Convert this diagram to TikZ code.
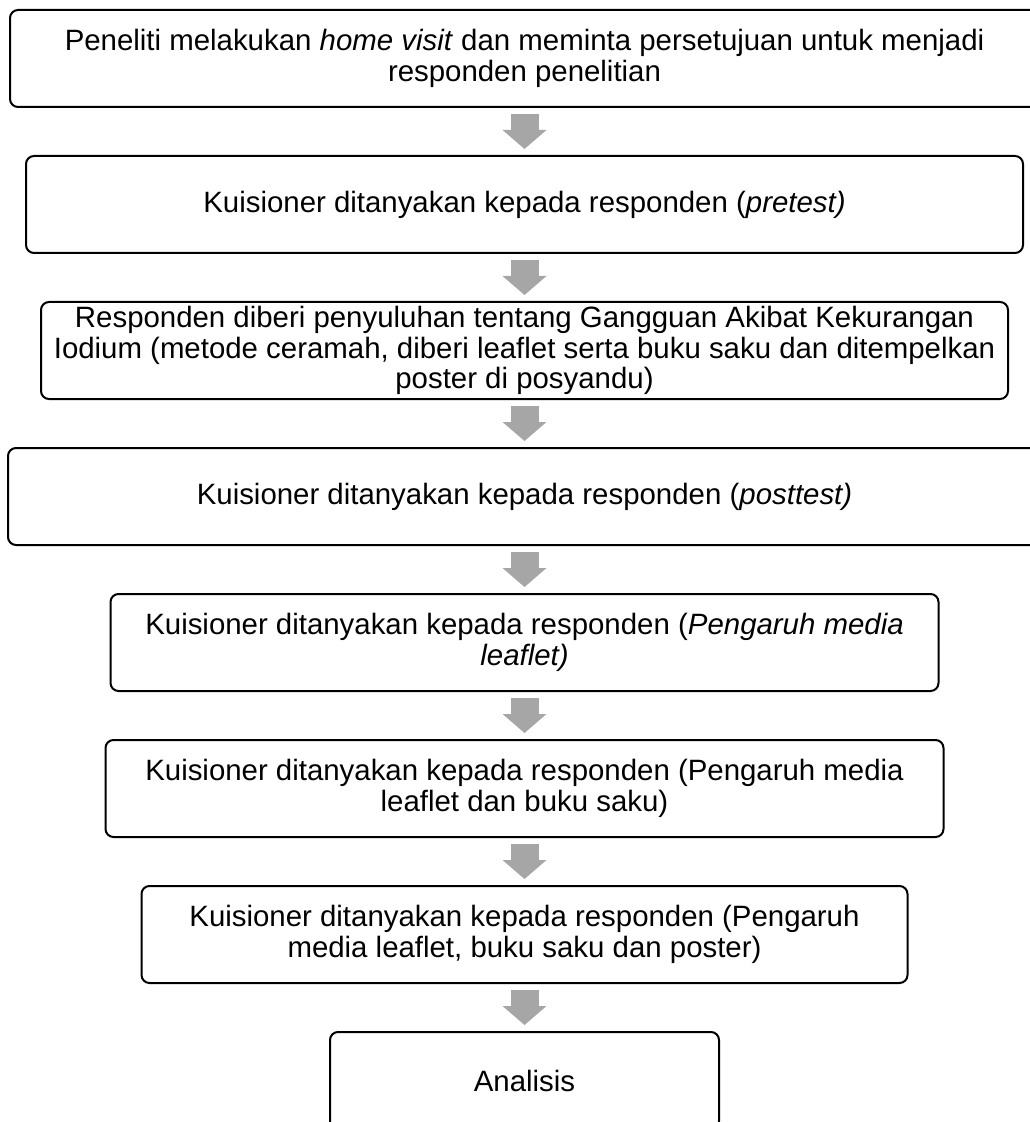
\documentclass[tikz,border=0pt]{standalone}
\usepackage{fontspec}
\setmainfont{Liberation Sans}
\usetikzlibrary{positioning,arrows.meta}
\usepackage{xcolor}
\definecolor{arrowgray}{HTML}{A6A6A6}

\begin{document}
\begin{tikzpicture}[node distance=23.5pt]
\tikzstyle{stage}=[rectangle, rounded corners=4pt, draw=black, line width=1pt, fill=white, text=black, align=center, minimum height=48.5pt, inner ysep=1pt, font=\fontsize{14.7}{15.2}\selectfont]
\tikzstyle{flow}=[color=arrowgray, line width=14pt, -{Triangle[width=22pt,length=9.5pt,line width=0pt]}, shorten <=3pt, shorten >=3pt]

	\useasboundingbox (0,0) rectangle (514.5pt,-561pt);
	\node[stage, minimum width=514.5pt] (s_1) at (262.25pt,-29.25pt) {Peneliti melakukan \textit{home visit} dan meminta persetujuan untuk menjadi\\responden penelitian};
	\node[stage, minimum width=498.5pt] (s_2) [below=of s_1] {Kuisioner ditanyakan kepada responden (\textit{pretest)}};
	\node[stage, minimum width=483.5pt] (s_3) [below=of s_2] {Responden diberi penyuluhan tentang Gangguan Akibat Kekurangan\\Iodium (metode ceramah, diberi leaflet serta buku saku dan ditempelkan\\poster di posyandu)};
	\node[stage, minimum width=516.5pt] (s_4) [below=of s_3] {Kuisioner ditanyakan kepada responden (\textit{posttest)}};
	\node[stage, minimum width=414pt]   (s_5) [below=of s_4] {Kuisioner ditanyakan kepada responden (\textit{Pengaruh media}\\\textit{leaflet)}};
	\node[stage, minimum width=419pt]   (s_6) [below=of s_5] {Kuisioner ditanyakan kepada responden (Pengaruh media\\leaflet dan buku saku)};
	\node[stage, minimum width=383pt]   (s_7) [below=of s_6] {Kuisioner ditanyakan kepada responden (Pengaruh\\media leaflet, buku saku dan poster)};
	\node[stage, minimum width=194.5pt] (s_8) [below=of s_7] {Analisis};

	\path[flow]	(s_1) edge (s_2)
				(s_2) edge (s_3)
				(s_3) edge (s_4)
				(s_4) edge (s_5)
				(s_5) edge (s_6)
				(s_6) edge (s_7)
				(s_7) edge (s_8);
\end{tikzpicture}
\end{document}
